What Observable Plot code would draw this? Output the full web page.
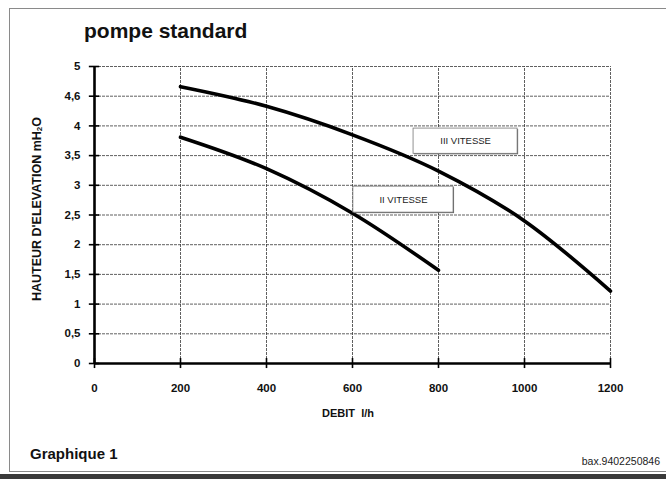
<!DOCTYPE html>
<html>
<head>
<meta charset="utf-8">
<script src="https://cdn.jsdelivr.net/npm/d3@7"></script>
<script src="https://cdn.jsdelivr.net/npm/@observablehq/plot@0.6"></script>
<style>
  html, body { margin: 0; padding: 0; background: #fff; }
  #wrap { position: relative; width: 666px; height: 479px; overflow: hidden; font-family: "Liberation Sans", Arial, sans-serif; }
  #wrap svg { position: absolute; left: 0; top: 0; }
  .frame { position: absolute; left: 9px; top: 8px; width: 660px; height: 464px; border: 1px solid #8a8a8a; box-sizing: border-box; }
  .band { position: absolute; left: 0; top: 474px; width: 666px; height: 5px; background: #3a3a3a; }
  .title { position: absolute; left: 84px; top: 19px; font-size: 21px; font-weight: bold; color: #111; }
  .ylab { position: absolute; left: 37px; top: 209px; transform: translate(-50%, -50%) rotate(-90deg); white-space: nowrap; font-size: 12.5px; font-weight: bold; color: #111; }
  .ylab sub { font-size: 8px; vertical-align: -1px; }
  .xlab { position: absolute; left: 348px; top: 407px; transform: translateX(-50%); white-space: pre; font-size: 11px; font-weight: bold; color: #111; }
  .foot { position: absolute; left: 30px; top: 445px; font-size: 15px; font-weight: bold; color: #111; }
  .ref { position: absolute; right: 6px; top: 455px; font-size: 10.5px; color: #222; }
</style>
</head>
<body>
<div id="wrap">
  <div class="frame"></div>
  <div class="band"></div>
</div>
<script>
// Data
const xTicks = [0, 200, 400, 600, 800, 1000, 1200];
const yTicks = [0, 0.5, 1, 1.5, 2, 2.5, 3, 3.5, 4, 4.5, 5];
const yTickLabels = ["0", "0,5", "1", "1,5", "2", "2,5", "3", "3,5", "4", "4,6", "5"];

const debitII = [200, 400, 600, 800];
const hauteurII = [3.81, 3.28, 2.53, 1.57];
const debitIII = [200, 400, 600, 800, 1000, 1200];
const hauteurIII = [4.66, 4.33, 3.85, 3.24, 2.40, 1.22];

const seriesNames = ["III VITESSE", "II VITESSE"];
const boxX1 = [742, 602];
const boxX2 = [984, 835];
const boxY1 = [3.53, 2.54];
const boxY2 = [3.955, 2.977];

const lineII = debitII.map((d, i) => ({x: d, y: hauteurII[i]}));
const lineIII = debitIII.map((d, i) => ({x: d, y: hauteurIII[i]}));
const boxes = seriesNames.map((s, i) => ({name: s, x1: boxX1[i], x2: boxX2[i], y1: boxY1[i], y2: boxY2[i], xc: (boxX1[i] + boxX2[i]) / 2, yc: (boxY1[i] + boxY2[i]) / 2}));

const font = "Liberation Sans, Arial, sans-serif";
const gridStyle = {stroke: "#3a3a3a", strokeWidth: 0.9, strokeDasharray: "3,1", strokeOpacity: 0.9};

const chart = Plot.plot({
  width: 666,
  height: 479,
  marginLeft: 94,
  marginRight: 56,
  marginTop: 66,
  marginBottom: 116,
  style: {fontFamily: font, background: "transparent", color: "#111"},
  x: {domain: [0, 1200], label: null},
  y: {domain: [0, 5], label: null},
  marks: [
    Plot.ruleX(xTicks.slice(1), {y1: 0, y2: 5, ...gridStyle}),
    Plot.ruleY(yTicks.slice(1), {x1: 0, x2: 1200, ...gridStyle}),
    Plot.ruleX([0], {y1: 0, y2: 5, stroke: "#000", strokeWidth: 2.6}),
    Plot.ruleY([0], {x1: 0, x2: 1200, stroke: "#000", strokeWidth: 2.6}),
    Plot.ruleY(yTicks, {x1: -12, x2: 12, stroke: "#000", strokeWidth: 1.6}),
    Plot.ruleX(xTicks, {y1: -0.085, y2: 0.085, stroke: "#000", strokeWidth: 1.6}),
    Plot.axisY({ticks: yTicks, tickSize: 0, tickPadding: 14, tickFormat: d => yTickLabels[yTicks.indexOf(d)], fontWeight: "bold", fontSize: 11.5}),
    Plot.axisX({ticks: xTicks, tickSize: 0, tickPadding: 20, tickFormat: d => String(d), fontWeight: "bold", fontSize: 11.5}),
    Plot.line(lineII, {x: "x", y: "y", curve: "monotone-x", stroke: "#000", strokeWidth: 3.6}),
    Plot.line(lineIII, {x: "x", y: "y", curve: "monotone-x", stroke: "#000", strokeWidth: 3.6}),
    Plot.rect(boxes, {x1: "x1", x2: "x2", y1: "y1", y2: "y2", fill: "#666", dx: 1, dy: 1}),
    Plot.rect(boxes, {x1: "x1", x2: "x2", y1: "y1", y2: "y2", fill: "#fff", stroke: "#777", strokeWidth: 0.8}),
    Plot.text(boxes, {x: "xc", y: "yc", text: "name", fontSize: 9.5, fill: "#222"})
  ]
});

const wrap = document.getElementById("wrap");
wrap.appendChild(chart);

function addDiv(cls, html) {
  const d = document.createElement("div");
  d.className = cls;
  d.innerHTML = html;
  wrap.appendChild(d);
}
addDiv("title", "pompe standard");
addDiv("ylab", "HAUTEUR D'ELEVATION mH<sub>2</sub>O");
addDiv("xlab", "DEBIT  l/h");
addDiv("foot", "Graphique 1");
addDiv("ref", "bax.9402250846");
</script>
</body>
</html>
